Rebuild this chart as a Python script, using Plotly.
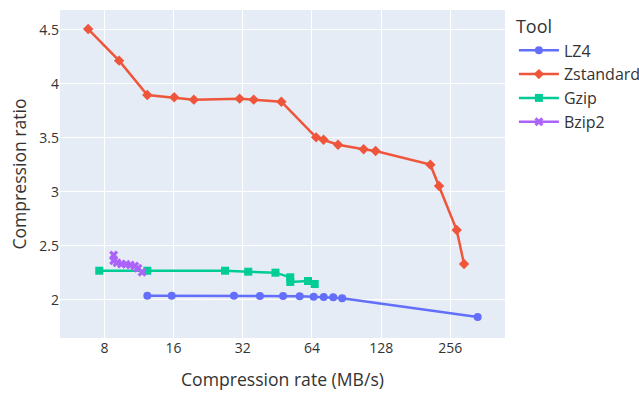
import plotly.graph_objects as go

# Compression benchmark: throughput vs. ratio, one series per tool
lz4_rate = [12.3, 15.7, 29.3, 38.0, 47.9, 56.6, 65.1, 72.0, 79.2, 86.6, 336.6]
lz4_ratio = [2.040, 2.040, 2.040, 2.037, 2.037, 2.034, 2.031, 2.028, 2.025, 2.016, 1.843]

zstd_rate = [6.8, 9.27, 12.3, 16.1, 19.6, 31.0, 35.7, 47.1, 66.7, 71.9, 83.1,
             107.4, 121.1, 209.5, 228.6, 272.8, 293.7]
zstd_ratio = [4.509, 4.216, 3.898, 3.877, 3.855, 3.864, 3.855, 3.836, 3.506, 3.484,
              3.438, 3.395, 3.380, 3.253, 3.056, 2.648, 2.333]

gzip_rate = [7.6, 12.3, 26.8, 33.8, 44.4, 51.5, 51.5, 61.5, 65.8]
gzip_ratio = [2.271, 2.271, 2.271, 2.262, 2.253, 2.210, 2.167, 2.176, 2.148]

bzip2_rate = [8.78, 8.78, 9.08, 9.49, 9.94, 10.38, 10.84, 11.2, 11.67]
bzip2_ratio = [2.417, 2.364, 2.345, 2.333, 2.331, 2.324, 2.315, 2.294, 2.256]

x_ticks = [8, 16, 32, 64, 128, 256]

series = [
    ("LZ4", lz4_rate, lz4_ratio, "#636efa", "circle"),
    ("Zstandard", zstd_rate, zstd_ratio, "#EF553B", "diamond"),
    ("Gzip", gzip_rate, gzip_ratio, "#00cc96", "square"),
    ("Bzip2", bzip2_rate, bzip2_ratio, "#ab63fa", "x"),
]

fig = go.Figure()
for name, xs, ys, color, symbol in series:
    fig.add_trace(go.Scatter(
        x=xs, y=ys, name=name, mode="lines+markers",
        line=dict(color=color, width=2.5),
        marker=dict(color=color, symbol=symbol, size=8),
    ))

text_color = "#333"
fig.update_layout(
    template="plotly",
    width=639, height=393,
    margin=dict(l=60, r=134, t=10, b=55, autoexpand=False),
    font=dict(family="Open Sans, verdana, arial, sans-serif", size=14, color=text_color),
    legend=dict(title=dict(text="Tool", font=dict(size=18)), font=dict(size=16),
                itemwidth=40, tracegroupgap=0),
    xaxis=dict(
        type="log",
        title=dict(text="Compression rate (MB/s)", font=dict(size=17.6), standoff=17),
        automargin=True,
        tickvals=x_ticks, ticktext=[str(v) for v in x_ticks],
        range=[0.710, 2.646],
    ),
    yaxis=dict(
        title=dict(text="Compression ratio", font=dict(size=17.6), standoff=8),
        automargin=True,
        dtick=0.5, range=[1.648, 4.685],
    ),
)

fig.write_html("out.html")
